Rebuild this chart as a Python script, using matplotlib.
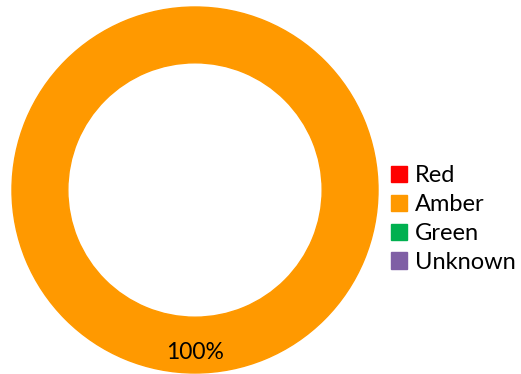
import matplotlib.pyplot as plt

# RAG status share
categories = ['Red', 'Amber', 'Green', 'Unknown']
values = [0, 100, 0, 0]
colors = ['#FF0000', '#FF9900', '#00B050', '#7F5FA5']

plt.rcParams['font.family'] = ['Lato', 'DejaVu Sans']

W, H = 521, 374
fig = plt.figure(figsize=(W / 100, H / 100), dpi=100)

# donut axes, placed in pixel terms
ax = fig.add_axes([12 / W, 1 / H, 366 / W, 366 / H])


def pct_label(p):
    return f'{p:.0f}%' if p > 0 else ''


wedges, texts, autotexts = ax.pie(
    values, colors=colors, startangle=90, counterclock=False,
    radius=1.0, wedgeprops=dict(width=0.305, linewidth=0),
    autopct=pct_label, pctdistance=0.89,
    textprops=dict(fontsize=16.5, color='black'))

# close the antialiasing seam of the full ring
for w, v in zip(wedges, values):
    if v > 0:
        w.set_edgecolor(w.get_facecolor())
        w.set_linewidth(1)

ax.set_xlim(-1, 1)
ax.set_ylim(-1, 1)
ax.set_aspect('equal')
ax.axis('off')

handles = [plt.Rectangle((0, 0), 1, 1, color=c) for c in colors]
fig.legend(handles, categories, loc='center left',
           bbox_to_anchor=(391 / W, (H - 219) / H),
           frameon=False, fontsize=17, handlelength=0.68, handleheight=0.68,
           handletextpad=0.35, labelspacing=0.33, borderpad=0, borderaxespad=0)

fig.savefig('out.png', dpi=100)
